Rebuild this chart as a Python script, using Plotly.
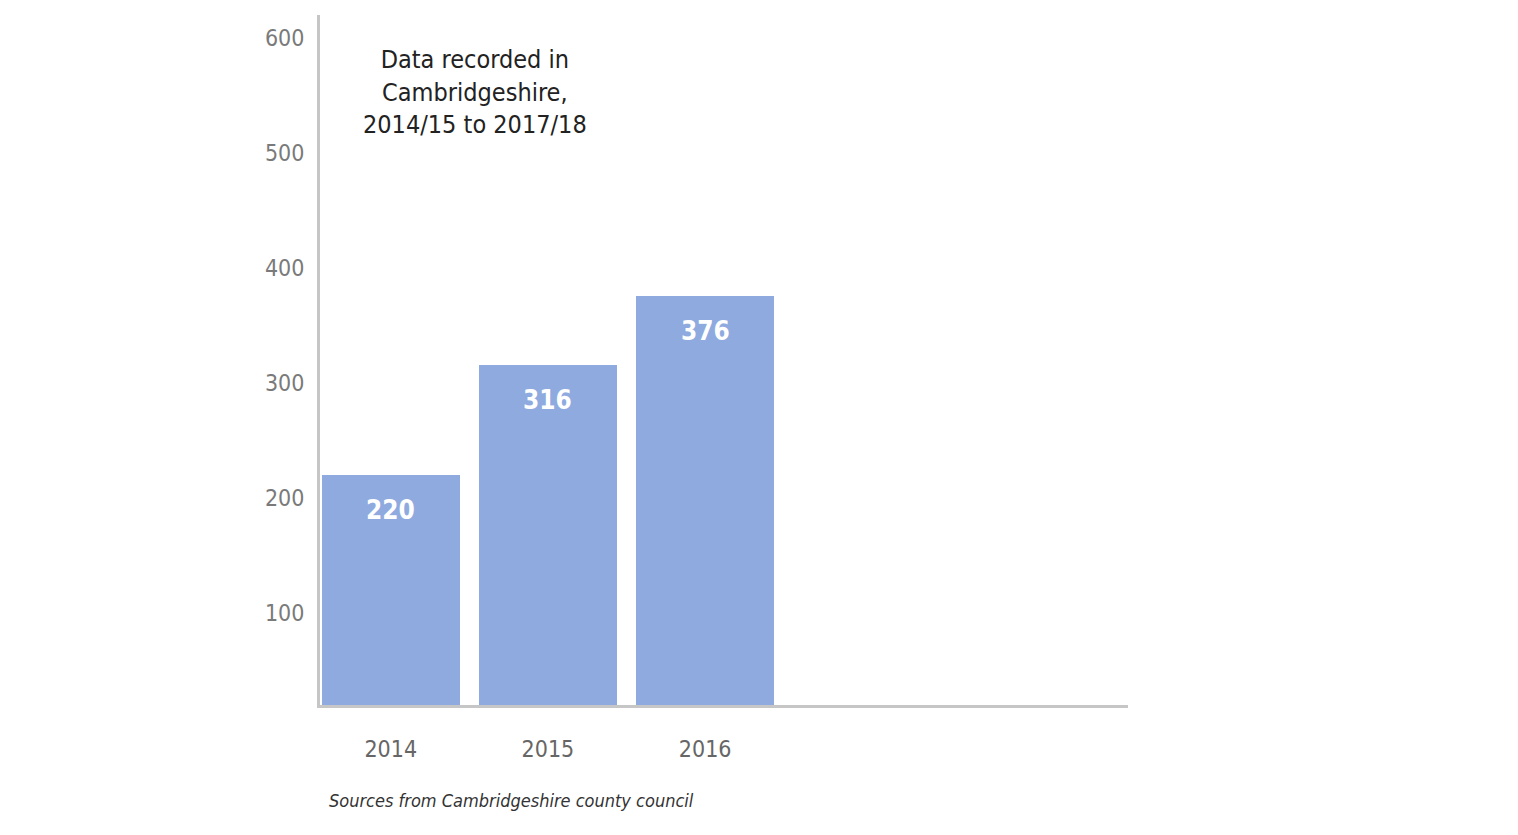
import plotly.graph_objects as go

years = ["2014", "2015", "2016"]
positions = [0, 1, 2]
values = [220, 316, 376]
y_ticks = [100, 200, 300, 400, 500, 600]

FONT = "DejaVu Sans Condensed, Liberation Sans Narrow, sans-serif"
AXIS_GREY = "#c6c6c6"

fig = go.Figure()
fig.add_trace(go.Bar(
    x=positions, y=values, width=0.88,
    marker=dict(color="#8eaadf", line=dict(width=0)),
    hoverinfo="skip",
))

# value labels sit a little below the top of each bar
for xp, v in zip(positions, values):
    fig.add_annotation(
        x=xp, y=v, xref="x", yref="y", yanchor="top", yshift=-18,
        showarrow=False, text=f"<b>{v}</b>",
        font=dict(family=FONT, size=26, color="white"),
    )

fig.update_layout(
    width=1518, height=835,
    margin=dict(l=312, r=398, t=7, b=138),
    plot_bgcolor="white", paper_bgcolor="white",
    showlegend=False, bargap=0,
    font=dict(family=FONT),
)

fig.update_xaxes(
    range=[-0.45, 4.69], tickvals=positions, ticktext=years,
    showgrid=False, zeroline=False, showline=True,
    linecolor=AXIS_GREY, linewidth=3, ticks="",
    ticklabelstandoff=21,
    tickfont=dict(family=FONT, size=23, color="#666666"),
)
fig.update_yaxes(
    range=[20, 620], tickvals=y_ticks,
    showgrid=False, zeroline=False, showline=True,
    linecolor=AXIS_GREY, linewidth=3, ticks="",
    ticklabelstandoff=8,
    tickfont=dict(family=FONT, size=23, color="#7a7a7a"),
)

fig.add_annotation(
    xref="paper", yref="paper", x=0.192, y=0.888,
    xanchor="center", yanchor="middle", showarrow=False,
    text="Data recorded in<br>Cambridgeshire,<br>2014/15 to 2017/18",
    font=dict(family=FONT, size=25, color="#222222"),
)
fig.add_annotation(
    xref="paper", yref="paper", x=0.009, y=-0.138,
    xanchor="left", yanchor="middle", showarrow=False,
    text="<i>Sources from Cambridgeshire county council</i>",
    font=dict(family=FONT, size=18, color="#333333"),
)

fig.write_html("out.html")
